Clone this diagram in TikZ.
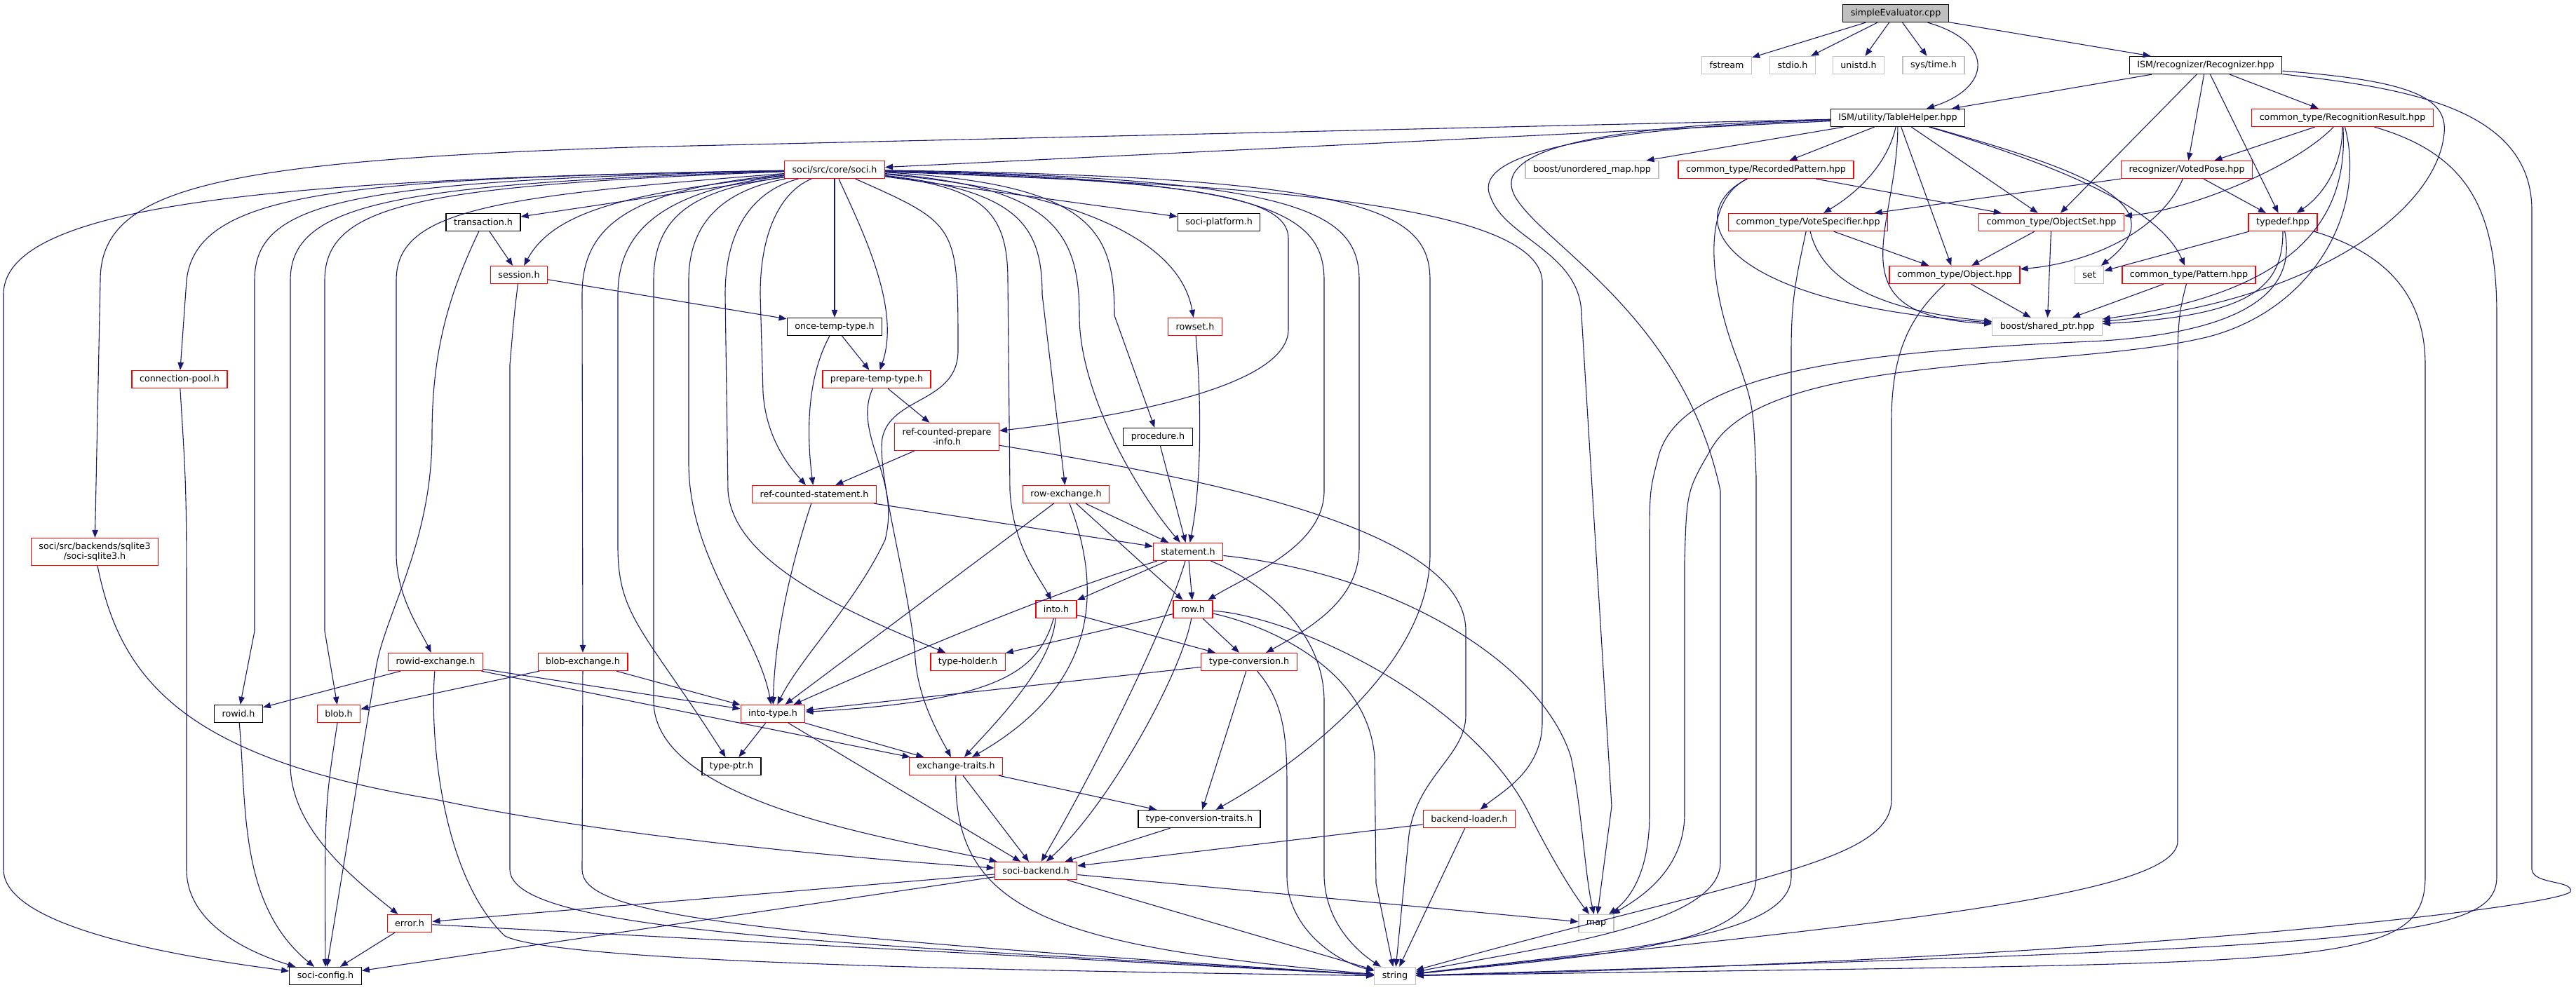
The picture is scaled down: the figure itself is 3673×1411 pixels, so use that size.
\documentclass[tikz,border=0pt]{standalone}
\usepackage{fontspec}
\setmainfont{DejaVu Sans}
\usetikzlibrary{arrows.meta}
\definecolor{edgeblue}{RGB}{25,25,112}
\definecolor{extgray}{RGB}{191,191,191}
\begin{document}
\begin{tikzpicture}[x=1pt, y=-1pt,
  every node/.style={rectangle, draw, line width=1.3pt, fill=white, font=\fontsize{12.7}{14.5}\selectfont, inner xsep=11pt, inner ysep=3pt, minimum height=25pt, align=center},
  src/.style={draw=black, fill=extgray},
  hdr/.style={draw=black},
  trunc/.style={draw=red},
  ext/.style={draw=extgray},
  twoline/.style={minimum height=39pt},
  dep/.style={draw=edgeblue, line width=1.1pt, -{Triangle[length=11pt,width=8.5pt]}}]
\useasboundingbox (0,0) rectangle (3673,1411);

\node[src] (root) at (2703,19) {simpleEvaluator.cpp};
\node[ext] (fstream) at (2462,93) {fstream};
\node[ext] (stdioh) at (2556,93) {stdio.h};
\node[ext] (unistdh) at (2650,93) {unistd.h};
\node[ext] (systime) at (2757,93) {sys/time.h};
\node[hdr] (recognizer) at (3145,93) {ISM/recognizer/Recognizer.hpp};
\node[hdr] (tablehelper) at (2706,168) {ISM/utility/TableHelper.hpp};
\node[trunc] (recresult) at (3340,168) {common\_type/RecognitionResult.hpp};
\node[trunc] (soci) at (1190,242) {soci/src/core/soci.h};
\node[ext] (unorderedmap) at (2270,242) {boost/unordered\_map.hpp};
\node[trunc] (recpattern) at (2518,242) {common\_type/RecordedPattern.hpp};
\node[trunc] (votedpose) at (3118,242) {recognizer/VotedPose.hpp};
\node[hdr] (transaction) at (689,317) {transaction.h};
\node[hdr] (sociplatform) at (1738,317) {soci-platform.h};
\node[trunc] (votespec) at (2578,317) {common\_type/VoteSpecifier.hpp};
\node[trunc] (objectset) at (2925,317) {common\_type/ObjectSet.hpp};
\node[trunc] (typedefh) at (3255,317) {typedef.hpp};
\node[trunc] (session) at (740,392) {session.h};
\node[trunc] (object) at (2787,392) {common\_type/Object.hpp};
\node[ext] (stlset) at (2979,392) {set};
\node[trunc] (pattern) at (3121,392) {common\_type/Pattern.hpp};
\node[hdr] (oncetemp) at (1190,466) {once-temp-type.h};
\node[trunc] (rowset) at (1704,466) {rowset.h};
\node[ext] (sharedptr) at (2919,466) {boost/shared\_ptr.hpp};
\node[trunc] (connpool) at (256,541) {connection-pool.h};
\node[trunc] (preptemp) at (1250,541) {prepare-temp-type.h};
\node[trunc, twoline] (refprepinfo) at (1350,623) {ref-counted-prepare\\-info.h};
\node[hdr] (procedure) at (1651,623) {procedure.h};
\node[trunc] (refstmt) at (1161,705) {ref-counted-statement.h};
\node[trunc] (rowexch) at (1520,705) {row-exchange.h};
\node[trunc, twoline] (sqlite) at (135,787) {soci/src/backends/sqlite3\\/soci-sqlite3.h};
\node[trunc] (statement) at (1694,787) {statement.h};
\node[trunc] (into) at (1506,869) {into.h};
\node[trunc] (row) at (1701,869) {row.h};
\node[trunc] (rowidexch) at (621,944) {rowid-exchange.h};
\node[trunc] (blobexch) at (831,944) {blob-exchange.h};
\node[trunc] (typeholder) at (1380,944) {type-holder.h};
\node[trunc] (typeconv) at (1781,944) {type-conversion.h};
\node[hdr] (rowid) at (340,1018) {rowid.h};
\node[trunc] (blob) at (483,1018) {blob.h};
\node[trunc] (intotype) at (1102,1018) {into-type.h};
\node[hdr] (typeptr) at (1043,1093) {type-ptr.h};
\node[trunc] (exchtraits) at (1363,1093) {exchange-traits.h};
\node[hdr] (convtraits) at (1710,1168) {type-conversion-traits.h};
\node[trunc] (backendloader) at (2095,1168) {backend-loader.h};
\node[trunc] (socibackend) at (1477,1242) {soci-backend.h};
\node[trunc] (error) at (584,1317) {error.h};
\node[ext] (stlmap) at (2276,1317) {map};
\node[hdr] (sociconfig) at (464,1392) {soci-config.h};
\node[ext] (stlstring) at (1989,1392) {string};

\draw[dep] (root) -- (fstream);
\draw[dep] (root) -- (stdioh);
\draw[dep] (root) -- (unistdh);
\draw[dep] (root) -- (systime);
\draw[dep] (root) .. controls (2845,60) and (2840,125) .. (tablehelper);
\draw[dep] (root) -- (recognizer);

\draw[dep] (recognizer) -- (tablehelper);
\draw[dep] (recognizer) -- (objectset);
\draw[dep] (recognizer) -- (votedpose);
\draw[dep] (recognizer) -- (typedefh);
\draw[dep] (recognizer) -- (recresult);
\draw[dep] (recognizer) .. controls (3440,115) and (3490,140) .. (3485,190) .. controls (3475,300) and (3300,430) .. (sharedptr);
\draw[dep] (recognizer) .. controls (3420,125) and (3610,150) .. (3610,300) -- (3610,1240) .. controls (3612,1262) and (3670,1255) .. (3665,1272) .. controls (3640,1295) and (3000,1370) .. (stlstring);

\draw[dep] (recresult) -- (votedpose);
\draw[dep] (recresult) .. controls (3270,240) and (3120,300) .. (objectset);
\draw[dep] (recresult) .. controls (3340,240) and (3310,280) .. (typedefh);
\draw[dep] (recresult) .. controls (3350,330) and (3250,420) .. (sharedptr);
\draw[dep] (recresult) .. controls (3375,300) and (3300,440) .. (3150,480) .. controls (2950,530) and (2520,500) .. (2440,640) .. controls (2405,700) .. (2402,800) -- (2402,1160) .. controls (2402,1240) and (2340,1280) .. (stlmap);
\draw[dep] (recresult) .. controls (3520,220) and (3560,300) .. (3560,450) -- (3560,1250) .. controls (3560,1340) and (3400,1350) .. (stlstring);

\draw[dep] (typedefh) -- (stlset);
\draw[dep] (typedefh) .. controls (3255,410) and (3210,450) .. (sharedptr);
\draw[dep] (typedefh) .. controls (3272,400) and (3230,470) .. (3000,486) .. controls (2700,500) and (2400,520) .. (2365,650) .. controls (2352,700) .. (2352,780) -- (2352,1160) .. controls (2352,1250) and (2320,1285) .. (stlmap);
\draw[dep] (typedefh) .. controls (3400,360) and (3458,420) .. (3458,520) -- (3458,1250) .. controls (3458,1390) and (3300,1370) .. (stlstring);

\draw[dep] (votedpose) -- (votespec);
\draw[dep] (votedpose) .. controls (3080,330) and (2980,375) .. (object);
\draw[dep] (votedpose) -- (typedefh);

\draw[dep] (objectset) -- (object);
\draw[dep] (objectset) -- (sharedptr);
\draw[dep] (object) -- (sharedptr);
\draw[dep] (object) .. controls (2725,450) and (2697,500) .. (2697,600) -- (2697,1140) .. controls (2697,1230) and (2500,1250) .. (stlstring);
\draw[dep] (pattern) -- (sharedptr);
\draw[dep] (pattern) .. controls (3108,440) and (3105,460) .. (3105,520) -- (3105,1200) .. controls (3105,1280) and (2650,1320) .. (stlstring);

\draw[dep] (tablehelper) -- (soci);
\draw[dep] (tablehelper) -- (900,210) .. controls (300,230) and (143,270) .. (143,400) -- (sqlite);
\draw[dep] (tablehelper) -- (unorderedmap);
\draw[dep] (tablehelper) -- (recpattern);
\draw[dep] (tablehelper) .. controls (2690,240) and (2640,280) .. (votespec);
\draw[dep] (tablehelper) -- (objectset);
\draw[dep] (tablehelper) -- (object);
\draw[dep] (tablehelper) .. controls (2960,240) and (3110,290) .. (stlset);
\draw[dep] (tablehelper) .. controls (2950,240) and (3080,300) .. (pattern);
\draw[dep] (tablehelper) .. controls (2705,330) and (2610,450) .. (sharedptr);
\draw[dep] (tablehelper) .. controls (2300,182) and (2095,215) .. (2125,280) .. controls (2145,340) and (2255,360) .. (2255,450) -- (2298,1150) -- (stlmap);
\draw[dep] (tablehelper) .. controls (2320,178) and (2120,205) .. (2160,280) .. controls (2200,350) and (2400,450) .. (2453,700) -- (2453,1230) .. controls (2453,1320) and (2200,1350) .. (stlstring);

\draw[dep] (recpattern) -- (objectset);
\draw[dep] (recpattern) .. controls (2400,300) and (2430,430) .. (sharedptr);
\draw[dep] (recpattern) .. controls (2420,290) and (2440,420) .. (2480,520) .. controls (2500,580) .. (2504,680) -- (2504,1250) .. controls (2504,1350) and (2300,1360) .. (stlstring);

\draw[dep] (votespec) -- (object);
\draw[dep] (votespec) .. controls (2600,410) and (2700,445) .. (sharedptr);
\draw[dep] (votespec) .. controls (2560,400) and (2554,430) .. (2554,500) -- (2554,1250) .. controls (2554,1340) and (2300,1355) .. (stlstring);

\draw[dep] (soci) -- (sociplatform);
\draw[dep] (soci) -- (transaction);
\draw[dep] (soci) .. controls (900,275) and (790,300) .. (session);
\draw[dep] (soci) -- (oncetemp);
\draw[dep] (soci) .. controls (1230,330) and (1285,440) .. (preptemp);
\draw[dep] (soci) .. controls (1500,270) and (1680,330) .. (rowset);
\draw[dep] (soci) .. controls (1366,320) .. (1366,500) .. controls (1366,575) and (1270,565) .. (1258,625) .. controls (1250,680) and (1300,850) .. (1305,940) .. controls (1310,1000) and (1340,1050) .. (exchtraits);
\draw[dep] (soci) .. controls (1400,268) and (1437,300) .. (1437,400) -- (1440,700) .. controls (1445,780) and (1480,820) .. (into);
\draw[dep] (soci) .. controls (1450,272) and (1486,320) .. (1486,420) -- (rowexch);
\draw[dep] (soci) .. controls (1500,266) and (1539,330) .. (1539,450) .. controls (1539,560) and (1620,700) .. (statement);
\draw[dep] (soci) .. controls (1560,262) and (1589,330) .. (1589,450) -- (procedure);
\draw[dep] (soci) .. controls (1700,258) and (1837,280) .. (1837,340) -- (1837,470) .. controls (1837,560) and (1550,600) .. (refprepinfo);
\draw[dep] (soci) .. controls (1800,256) and (1888,300) .. (1888,400) -- (1888,700) .. controls (1888,780) and (1780,820) .. (row);
\draw[dep] (soci) .. controls (1850,254) and (1938,300) .. (1938,400) -- (1938,780) .. controls (1938,850) and (1880,890) .. (typeconv);
\draw[dep] (soci) .. controls (1950,252) and (2039,300) .. (2039,400) -- (2039,790) .. controls (2039,950) and (1850,1090) .. (convtraits);
\draw[dep] (soci) .. controls (1700,262) and (2190,280) .. (2199,400) -- (2199,1030) .. controls (2199,1100) and (2140,1130) .. (backendloader);
\draw[dep] (soci) .. controls (1000,270) and (932,300) .. (932,400) -- (932,1000) .. controls (932,1150) and (1300,1200) .. (socibackend);
\draw[dep] (soci) .. controls (1040,270) and (982,310) .. (982,400) -- (982,660) .. controls (982,800) and (1080,900) .. (intotype);
\draw[dep] (soci) .. controls (1080,270) and (1034,320) .. (1034,420) -- (1038,700) .. controls (1045,800) and (1200,870) .. (typeholder);
\draw[dep] (soci) .. controls (1120,270) and (1084,320) .. (1084,420) -- (1088,560) .. controls (1092,620) and (1120,660) .. (refstmt);
\draw[dep] (soci) .. controls (960,270) and (881,320) .. (881,420) -- (881,780) .. controls (881,880) and (920,900) .. (typeptr);
\draw[dep] (soci) .. controls (900,270) and (830,320) .. (830,420) -- (blobexch);
\draw[dep] (soci) .. controls (700,280) and (565,300) .. (565,400) -- (565,790) .. controls (565,850) and (600,900) .. (rowidexch);
\draw[dep] (soci) .. controls (600,265) and (463,290) .. (463,400) -- (463,900) -- (blob);
\draw[dep] (soci) .. controls (560,262) and (414,290) .. (414,400) -- (414,1090) .. controls (414,1180) and (500,1250) .. (error);
\draw[dep] (soci) .. controls (500,258) and (363,285) .. (363,400) -- (363,900) -- (rowid);
\draw[dep] (soci) .. controls (500,255) and (280,270) .. (266,400) -- (connpool);
\draw[dep] (soci) .. controls (400,255) and (5,290) .. (5,420) -- (5,1240) .. controls (5,1330) and (300,1370) .. (sociconfig);

\draw[dep] (transaction) -- (session);
\draw[dep] (transaction) .. controls (640,420) and (616,500) .. (616,620) .. controls (616,780) and (545,880) .. (535,960) -- (sociconfig);
\draw[dep] (session) -- (oncetemp);
\draw[dep] (session) .. controls (733,450) .. (727,520) -- (727,1240) .. controls (727,1330) and (1200,1345) .. (stlstring);
\draw[dep] (oncetemp) .. controls (1150,540) and (1150,620) .. (refstmt);
\draw[dep] (oncetemp) -- (preptemp);
\draw[dep] (preptemp) -- (refprepinfo);
\draw[dep] (preptemp) .. controls (1215,620) and (1285,680) .. (1262,770) .. controls (1220,860) and (1140,940) .. (intotype);
\draw[dep] (refprepinfo) -- (refstmt);
\draw[dep] (refprepinfo) .. controls (1700,680) and (2090,750) .. (2090,900) -- (2090,1020) .. controls (2090,1080) and (2015,1110) .. (2008,1200) -- (stlstring);
\draw[dep] (refstmt) -- (statement);
\draw[dep] (refstmt) .. controls (1130,800) and (1105,900) .. (intotype);
\draw[dep] (procedure) -- (statement);
\draw[dep] (rowset) .. controls (1712,560) and (1715,680) .. (statement);

\draw[dep] (rowexch) -- (statement);
\draw[dep] (rowexch) -- (row);
\draw[dep] (rowexch) -- (intotype);
\draw[dep] (rowexch) .. controls (1575,850) and (1560,980) .. (exchtraits);
\draw[dep] (statement) -- (into);
\draw[dep] (statement) -- (row);
\draw[dep] (statement) .. controls (1500,845) and (1300,930) .. (intotype);
\draw[dep] (statement) .. controls (1660,900) and (1560,1100) .. (socibackend);
\draw[dep] (statement) .. controls (1800,830) and (1888,900) .. (1888,1000) -- (1888,1250) .. controls (1890,1320) and (1940,1360) .. (stlstring);
\draw[dep] (statement) .. controls (2000,820) and (2200,950) .. (2240,1080) .. controls (2255,1150) and (2260,1250) .. (stlmap);
\draw[dep] (row) -- (typeholder);
\draw[dep] (row) -- (typeconv);
\draw[dep] (row) .. controls (1685,960) and (1580,1150) .. (socibackend);
\draw[dep] (row) .. controls (1800,890) and (1950,950) .. (1960,1080) -- (1962,1260) -- (stlstring);
\draw[dep] (row) .. controls (1850,880) and (2100,1000) .. (2180,1160) .. controls (2210,1220) and (2240,1270) .. (stlmap);
\draw[dep] (into) -- (typeconv);
\draw[dep] (into) .. controls (1480,960) and (1420,1000) .. (intotype);
\draw[dep] (into) .. controls (1500,950) and (1420,1030) .. (exchtraits);
\draw[dep] (typeconv) -- (intotype);
\draw[dep] (typeconv) -- (convtraits);
\draw[dep] (typeconv) .. controls (1830,1000) and (1835,1050) .. (1835,1120) -- (1835,1250) .. controls (1835,1320) and (1900,1370) .. (stlstring);

\draw[dep] (intotype) -- (typeptr);
\draw[dep] (intotype) -- (exchtraits);
\draw[dep] (intotype) -- (socibackend);
\draw[dep] (exchtraits) -- (convtraits);
\draw[dep] (exchtraits) -- (socibackend);
\draw[dep] (exchtraits) .. controls (1360,1300) and (1500,1350) .. (stlstring);
\draw[dep] (convtraits) -- (socibackend);
\draw[dep] (backendloader) -- (socibackend);
\draw[dep] (backendloader) -- (stlstring);
\draw[dep] (socibackend) -- (error);
\draw[dep] (socibackend) -- (sociconfig);
\draw[dep] (socibackend) -- (stlmap);
\draw[dep] (socibackend) -- (stlstring);
\draw[dep] (error) -- (sociconfig);
\draw[dep] (error) -- (stlstring);

\draw[dep] (rowidexch) -- (rowid);
\draw[dep] (rowidexch) -- (intotype);
\draw[dep] (rowidexch) -- (exchtraits);
\draw[dep] (rowidexch) .. controls (612,1050) and (630,1250) .. (720,1335) .. controls (800,1375) and (1500,1385) .. (stlstring);
\draw[dep] (blobexch) -- (blob);
\draw[dep] (blobexch) -- (intotype);
\draw[dep] (blobexch) -- (830,1240) .. controls (830,1300) and (1000,1330) .. (stlstring);
\draw[dep] (rowid) .. controls (352,1150) and (340,1290) .. (sociconfig);
\draw[dep] (blob) .. controls (463,1150) .. (sociconfig);
\draw[dep] (connpool) .. controls (266,700) .. (266,900) -- (266,1240) .. controls (266,1320) and (360,1360) .. (sociconfig);
\draw[dep] (sqlite) .. controls (170,960) and (250,1080) .. (620,1140) .. controls (900,1200) and (1300,1230) .. (socibackend);
\end{tikzpicture}
\end{document}
